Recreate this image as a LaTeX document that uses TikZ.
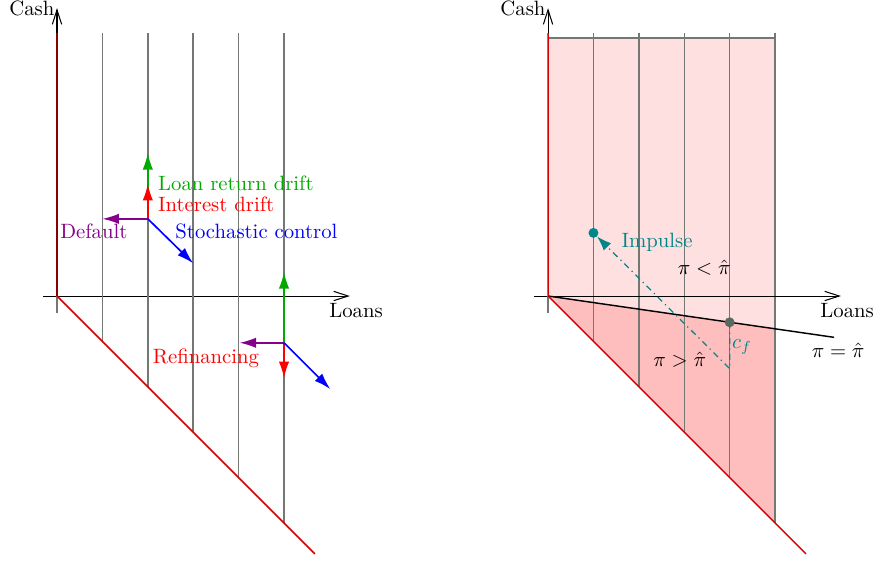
\documentclass[tikz,border=0pt]{standalone}
\usepackage{amsmath,amssymb}
\usetikzlibrary{arrows.meta,calc}
\definecolor{bound}{RGB}{210,0,0}
\definecolor{lpink}{RGB}{255,224,225}
\definecolor{dpink}{RGB}{255,190,190}
\definecolor{lgreen}{RGB}{0,170,0}
\definecolor{lpurple}{RGB}{135,0,140}
\definecolor{imp}{RGB}{0,135,135}
\definecolor{dotgray}{RGB}{90,105,95}
\definecolor{vgray}{RGB}{115,120,115}
\tikzset{
  axis/.style={-{Straight Barb[length=7pt,width=4.5pt]}, black, line width=0.5pt},
  stub/.style={vgray, line width=0.7pt},
  vline/.style={vgray, line width=0.7pt},
  edge/.style={bound, line width=0.7pt},
  vec/.style={-{Latex[length=8pt,width=5pt]}, thick},
  thresh/.style={black, line width=0.7pt},
  jump/.style={imp, semithick, dash dot, -{Latex[length=7pt,width=5pt]}, shorten >=2.5pt},
  lbl/.style={inner sep=0pt},
}

\begin{document}
\begin{tikzpicture}[x=0.77cm, y=0.77cm]
  \useasboundingbox (-1.2555,-5.815) rectangle (18.06,6.52);

  \draw[axis] (-0.3,0) -- (6.45,0) node[below, xshift=3pt] (loansl) {Loans};
  \draw[stub] (0,-0.37) -- (0,0);
  \draw[axis] (0,0) -- (0,6.34) node[left, inner sep=1pt] (cashl) {Cash};
  \foreach \i in {1,...,5}
    \draw[vline] (\i,-\i) -- (\i,5.79);
  \draw[edge] (0,5.79) -- (0,0) -- (5.68,-5.68);

  \coordinate (p) at (2,1.7);
  \draw[vec, lgreen] (p) -- ++(0,1.45);
  \draw[vec, red] (p) -- ++(0,0.77);
  \draw[vec, lpurple] (p) -- ++(-1,0);
  \draw[vec, blue] (p) -- ++(1,-0.98);
  \node[lbl, anchor=west, text=lgreen] (ldrift) at (2.22,2.49) {Loan return drift};
  \node[lbl, anchor=west, text=red] (idrift) at (2.22,2.03) {Interest drift};
  \node[lbl, anchor=east, text=lpurple] (deflt) at (1.56,1.42) {Default};
  \node[lbl, anchor=west, text=blue] (stoch) at (2.6,1.42) {Stochastic control};

  \coordinate (q) at (5,-1.03);
  \draw[vec, lgreen] (q) -- ++(0,1.56);
  \draw[vec, red] (q) -- ++(0,-0.78);
  \draw[vec, lpurple] (q) -- ++(-0.98,0);
  \draw[vec, blue] (q) -- ++(1.02,-1.02);
  \node[lbl, text=red] (refin) at (3.28,-1.37) {Refinancing};

  \begin{scope}[shift={(10.815,0)}]
    \fill[lpink] (0,0) -- (5,-0.722) -- (5,5.68) -- (0,5.68) -- cycle;
    \fill[dpink] (0,0) -- (5,-0.722) -- (5,-5) -- cycle;
    \draw[vline] (0,5.68) -- (5,5.68);
    \foreach \i in {1,...,5}
      \draw[vline] (\i,-\i) -- (\i,5.79);
    \draw[axis] (-0.3,0) -- (6.45,0) node[below, xshift=3pt] (loansr) {Loans};
    \draw[stub] (0,-0.37) -- (0,0);
    \draw[axis] (0,0) -- (0,6.34) node[left, inner sep=1pt] (cashr) {Cash};
    \draw[thresh] (0,0) -- (6.3,-0.91);
    \draw[edge] (0,5.79) -- (0,0) -- (5.68,-5.68);

    \coordinate (cf) at (4,-0.578);
    \coordinate (low) at (4,-1.6);
    \coordinate (target) at (1,1.39);
    \draw[jump] (cf) -- (low) -- (target);
    \fill[imp] (target) circle (2.4pt);
    \fill[dotgray] (cf) circle (2.4pt);

    \node[lbl, anchor=west, text=imp] (impulse) at (1.61,1.18) {Impulse};
    \node[lbl] (less) at (3.44,0.62) {$\pi < \hat{\pi}$};
    \node[lbl] (more) at (2.9,-1.41) {$\pi > \hat{\pi}$};
    \node[lbl] (equal) at (6.39,-1.19) {$\pi = \hat{\pi}$};
    \node[lbl, text=imp] (cflbl) at (4.27,-1.12) {$c_f$};
  \end{scope}
\end{tikzpicture}
\end{document}
